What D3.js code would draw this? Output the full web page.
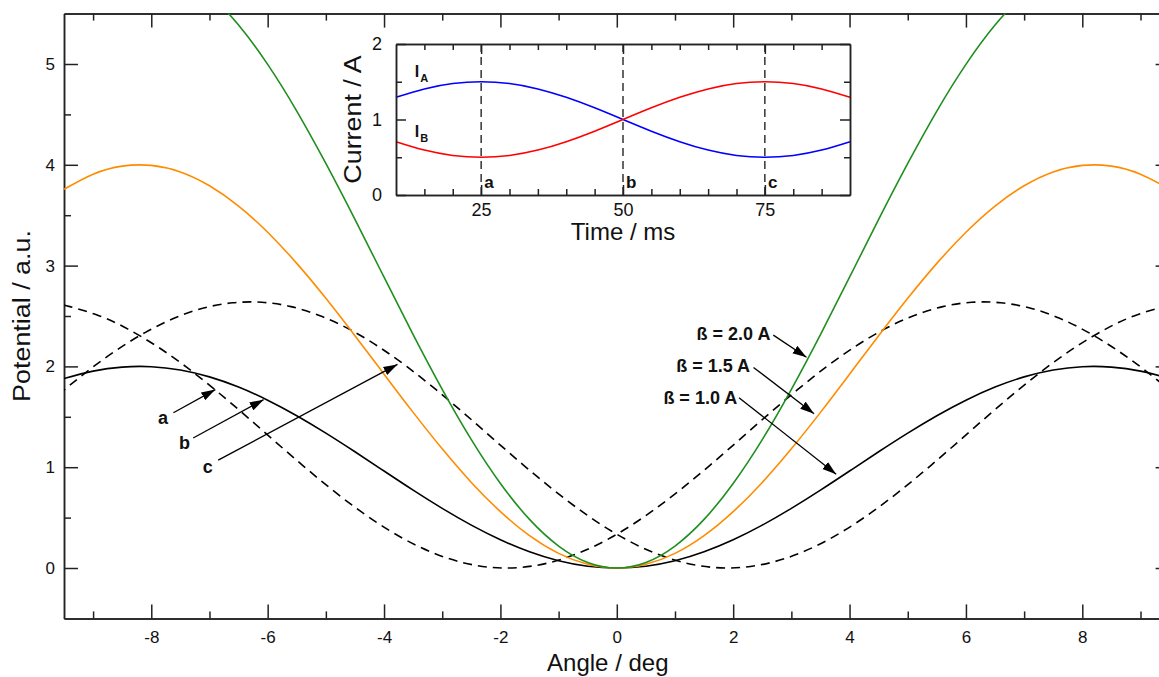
<!DOCTYPE html>
<html><head><meta charset="utf-8">
<script src="https://cdn.jsdelivr.net/npm/d3@7"></script>
<style>
body{margin:0;background:#fff}
svg{display:block}
text{font-family:"Liberation Sans",Arial,Helvetica,sans-serif;fill:#111}
</style>
</head><body>
<svg id="chart" width="1159" height="677"></svg>
<script>
// ---------- main chart data ----------
const angles = [-9.5,-9,-8.5,-8,-7.5,-7,-6.5,-6,-5.5,-5,-4.5,-4,-3.5,-3,-2.5,-2,-1.5,-1,-0.5,0,0.5,1,1.5,2,2.5,3,3.5,4,4.5,5,5.5,6,6.5,7,7.5,8,8.5,9,9.5];
const potBeta10 = [1.879,1.953,1.993,1.997,1.964,1.896,1.795,1.665,1.511,1.338,1.153,0.962,0.772,0.591,0.425,0.280,0.161,0.072,0.018,0,0.018,0.072,0.161,0.280,0.425,0.591,0.772,0.962,1.153,1.338,1.511,1.665,1.795,1.896,1.964,1.997,1.993,1.953,1.879];
const potBeta15 = [3.757,3.907,3.987,3.994,3.929,3.792,3.591,3.331,3.022,2.676,2.305,1.923,1.544,1.182,0.849,0.559,0.321,0.145,0.037,0,0.037,0.145,0.321,0.559,0.849,1.182,1.544,1.923,2.305,2.676,3.022,3.331,3.591,3.792,3.929,3.994,3.987,3.907,3.757];
const potBeta20 = [5.636,5.860,5.980,5.991,5.893,5.689,5.386,4.996,4.533,4.013,3.458,2.885,2.316,1.773,1.274,0.839,0.482,0.218,0.055,0,0.055,0.218,0.482,0.839,1.274,1.773,2.316,2.885,3.458,4.013,4.533,4.996,5.386,5.689,5.893,5.991,5.980,5.860,5.636];
// dashed curve "a" (minimum shifted left)
const angleA = [-9.5,-9.4,-8.9,-8.4,-7.9,-7.4,-6.9,-6.4,-5.9,-5.4,-4.9,-4.4,-3.9,-3.4,-2.9,-2.4,-1.9,-1.4,-0.9,-0.4,0.1,0.6,1.1,1.6,2.1,2.6,3.1,3.6,4.1,4.6,5.1,5.6,6.1,6.6,7.1,7.6,8.1,8.6,9.1,9.6];
const potA = [2.605,2.593,2.503,2.370,2.198,1.995,1.766,1.522,1.269,1.019,0.780,0.561,0.369,0.212,0.096,0.024,0,0.024,0.096,0.212,0.369,0.561,0.780,1.019,1.269,1.522,1.766,1.995,2.198,2.370,2.503,2.593,2.636,2.631,2.579,2.480,2.338,2.160,1.951,1.718];
// dashed curve "c" (minimum shifted right)
const angleC = [-9.6,-9.1,-8.6,-8.1,-7.6,-7.1,-6.6,-6.1,-5.6,-5.1,-4.6,-4.1,-3.6,-3.1,-2.6,-2.1,-1.6,-1.1,-0.6,-0.1,0.4,0.9,1.4,1.9,2.4,2.9,3.4,3.9,4.4,4.9,5.4,5.9,6.4,6.9,7.4,7.9,8.4,8.9,9.4,9.5];
const potC = [1.718,1.951,2.160,2.338,2.480,2.579,2.631,2.636,2.593,2.503,2.370,2.198,1.995,1.766,1.522,1.269,1.019,0.780,0.561,0.369,0.212,0.096,0.024,0,0.024,0.096,0.212,0.369,0.561,0.780,1.019,1.269,1.522,1.766,1.995,2.198,2.370,2.503,2.593,2.605];
const angleTicks = [-8,-6,-4,-2,0,2,4,6,8];
const angleMinorTicks = [-9,-7,-5,-3,-1,1,3,5,7,9];
const potentialTicks = [0,1,2,3,4,5];
const potentialMinorTicks = [0.5,1.5,2.5,3.5,4.5];
// annotation arrows (label, label pos, start, tip) in data units
const curveLabels = ["a","b","c"];
const curveLabelPos = [[-7.80,1.49],[-7.43,1.24],[-7.03,1.00]];
const curveArrowFrom = [[-7.62,1.54],[-7.28,1.29],[-6.85,1.07]];
const curveArrowTo = [[-6.90,1.77],[-6.07,1.67],[-3.77,2.02]];
const betaLabels = ["ß = 2.0 A","ß = 1.5 A","ß = 1.0 A"];
const betaLabelPos = [[2.64,2.32],[2.29,2.00],[2.07,1.69]];
const betaArrowFrom = [[2.69,2.31],[2.35,1.99],[2.10,1.69]];
const betaArrowTo = [[3.26,2.09],[3.39,1.53],[3.77,0.93]];

// ---------- inset data ----------
const time = [10,15,20,25,30,35,40,45,50,55,60,65,70,75,80,85,90];
const currentA = [1.294,1.405,1.476,1.5,1.476,1.405,1.294,1.155,1.0,0.845,0.706,0.595,0.524,0.5,0.524,0.595,0.706];
const currentB = [0.706,0.595,0.524,0.5,0.524,0.595,0.706,0.845,1.0,1.155,1.294,1.405,1.476,1.5,1.476,1.405,1.294];
const timeTicks = [25,50,75];
const timeMinorTicks = [15,20,30,35,40,45,55,60,65,70,80,85];
const currentTicks = [0,1,2];
const currentMinorTicks = [0.5,1.5];
const markTimes = [25,50,75];
const markLabels = ["a","b","c"];

// ---------- drawing ----------
const svg = d3.select("#chart");
const FONT = '"Liberation Sans",Arial,Helvetica,sans-serif';
const AX = "#222";

const M = {left:64, right:1169.6, top:13.6, bottom:618.4};
const x = d3.scaleLinear().domain([-9.5,9.5]).range([M.left,M.right]);
const y = d3.scaleLinear().domain([-0.5,5.5]).range([M.bottom,M.top]);

const defs = svg.append("defs");
defs.append("clipPath").attr("id","clipMain")
  .append("rect").attr("x",M.left).attr("y",M.top).attr("width",M.right-M.left).attr("height",M.bottom-M.top);
defs.append("marker").attr("id","arrow").attr("viewBox","0 -5 15 10")
  .attr("refX",14).attr("refY",0).attr("markerWidth",15).attr("markerHeight",10)
  .attr("markerUnits","userSpaceOnUse").attr("orient","auto")
  .append("path").attr("d","M0,-4.5L14,0L0,4.5Z").attr("fill","#000");

function styleAxis(g, fs){
  g.select(".domain").attr("stroke",AX).attr("stroke-width",1.5);
  g.selectAll(".tick line").attr("stroke",AX).attr("stroke-width",1.5);
  g.selectAll(".tick text").attr("font-family",FONT).attr("font-size",fs).attr("fill","#111");
}

// main axes
const mainAxes = [
  [d3.axisBottom(x).tickValues(angleTicks).tickSizeInner(-14).tickPadding(13).tickFormat(d=>String(d)), `translate(0,${M.bottom})`],
  [d3.axisBottom(x).tickValues(angleMinorTicks).tickSizeInner(-7).tickFormat(""), `translate(0,${M.bottom})`],
  [d3.axisTop(x).tickValues(angleTicks).tickSizeInner(-14).tickFormat(""), `translate(0,${M.top})`],
  [d3.axisTop(x).tickValues(angleMinorTicks).tickSizeInner(-7).tickFormat(""), `translate(0,${M.top})`],
  [d3.axisLeft(y).tickValues(potentialTicks).tickSizeInner(-14).tickPadding(9).tickFormat(d=>String(d)), `translate(${M.left},0)`],
  [d3.axisLeft(y).tickValues(potentialMinorTicks).tickSizeInner(-7).tickFormat(""), `translate(${M.left},0)`],
  [d3.axisRight(y).tickValues(potentialTicks).tickSizeInner(-14).tickFormat(""), `translate(${M.right},0)`]
];
mainAxes.forEach(([ax,tr])=>{
  const g = svg.append("g").attr("transform",tr).call(ax.tickSizeOuter(0));
  styleAxis(g,17);
});

svg.append("text").attr("x",(M.left+M.right)/2 - 9).attr("y",671)
  .attr("text-anchor","middle").attr("font-size",24).text("Angle / deg");
svg.append("text").attr("transform",`translate(30,${(M.top+M.bottom)/2}) rotate(-90) scale(1.12,1)`)
  .attr("text-anchor","middle").attr("font-size",24).text("Potential / a.u.");

// main curves
const plot = svg.append("g").attr("clip-path","url(#clipMain)");
const line = d3.line().x(d=>x(d[0])).y(d=>y(d[1])).curve(d3.curveNatural);
const series = [
  {xs:angleA, ys:potA, color:"#000", dash:"9,6"},
  {xs:angleC, ys:potC, color:"#000", dash:"9,6"},
  {xs:angles, ys:potBeta10, color:"#000", dash:null},
  {xs:angles, ys:potBeta15, color:"#ff8c00", dash:null},
  {xs:angles, ys:potBeta20, color:"#1f8f1f", dash:null}
];
series.forEach(s=>{
  plot.append("path").datum(s.xs.map((v,i)=>[v,s.ys[i]]))
    .attr("d",line).attr("fill","none").attr("stroke",s.color)
    .attr("stroke-width",1.6).attr("stroke-dasharray",s.dash);
});

// annotations
function arrow(from,to){
  svg.append("line").attr("x1",x(from[0])).attr("y1",y(from[1]))
    .attr("x2",x(to[0])).attr("y2",y(to[1]))
    .attr("stroke","#000").attr("stroke-width",1.3).attr("marker-end","url(#arrow)");
}
curveLabels.forEach((t,i)=>{
  arrow(curveArrowFrom[i],curveArrowTo[i]);
  svg.append("text").attr("x",x(curveLabelPos[i][0])).attr("y",y(curveLabelPos[i][1]))
    .attr("text-anchor","middle").attr("dominant-baseline","central")
    .attr("font-size",18).attr("font-weight","bold").text(t);
});
betaLabels.forEach((t,i)=>{
  arrow(betaArrowFrom[i],betaArrowTo[i]);
  svg.append("text").attr("x",x(betaLabelPos[i][0])).attr("y",y(betaLabelPos[i][1]))
    .attr("text-anchor","end").attr("dominant-baseline","central")
    .attr("font-size",18).attr("font-weight","bold").text(t);
});

// ---------- inset ----------
const I = {left:396, right:850, top:44, bottom:195};
const xi = d3.scaleLinear().domain([10,90]).range([I.left,I.right]);
const yi = d3.scaleLinear().domain([0,2]).range([I.bottom,I.top]);
svg.append("rect").attr("x",I.left).attr("y",I.top).attr("width",I.right-I.left).attr("height",I.bottom-I.top)
  .attr("fill","#fff");

markTimes.forEach((t,i)=>{
  svg.append("line").attr("x1",xi(t)).attr("x2",xi(t)).attr("y1",yi(2)).attr("y2",yi(0))
    .attr("stroke","#000").attr("stroke-width",1.2).attr("stroke-dasharray","8,5");
  svg.append("text").attr("x",xi(t)+3).attr("y",yi(0.16)).attr("dominant-baseline","central")
    .attr("font-size",17).attr("font-weight","bold").text(markLabels[i]);
});

const iline = d3.line().x(d=>xi(d[0])).y(d=>yi(d[1])).curve(d3.curveNatural);
svg.append("path").datum(time.map((t,i)=>[t,currentA[i]])).attr("d",iline)
  .attr("fill","none").attr("stroke","#0000ff").attr("stroke-width",1.6);
svg.append("path").datum(time.map((t,i)=>[t,currentB[i]])).attr("d",iline)
  .attr("fill","none").attr("stroke","#ff0000").attr("stroke-width",1.6);

const ia = [
  [d3.axisBottom(xi).tickValues(timeTicks).tickSizeInner(-10).tickPadding(8).tickFormat(d=>String(d)), `translate(0,${I.bottom})`],
  [d3.axisBottom(xi).tickValues(timeMinorTicks).tickSizeInner(-6).tickFormat(""), `translate(0,${I.bottom})`],
  [d3.axisTop(xi).tickValues(timeTicks).tickSizeInner(-10).tickFormat(""), `translate(0,${I.top})`],
  [d3.axisTop(xi).tickValues(timeMinorTicks).tickSizeInner(-6).tickFormat(""), `translate(0,${I.top})`],
  [d3.axisLeft(yi).tickValues(currentTicks).tickSizeInner(-10).tickPadding(14).tickFormat(d=>String(d)), `translate(${I.left},0)`],
  [d3.axisLeft(yi).tickValues(currentMinorTicks).tickSizeInner(-6).tickFormat(""), `translate(${I.left},0)`],
  [d3.axisRight(yi).tickValues(currentTicks).tickSizeInner(-10).tickFormat(""), `translate(${I.right},0)`],
  [d3.axisRight(yi).tickValues(currentMinorTicks).tickSizeInner(-6).tickFormat(""), `translate(${I.right},0)`]
];
ia.forEach(([ax,tr])=>{
  const g = svg.append("g").attr("transform",tr).call(ax.tickSizeOuter(0));
  styleAxis(g,18);
});

svg.append("text").attr("x",(I.left+I.right)/2).attr("y",240)
  .attr("text-anchor","middle").attr("font-size",24).text("Time / ms");
svg.append("text").attr("transform",`translate(361,${(I.top+I.bottom)/2}) rotate(-90) scale(1.12,1)`)
  .attr("text-anchor","middle").attr("font-size",24).text("Current / A");

[["A",1.56],["B",0.77]].forEach(([sub,v])=>{
  const t = svg.append("text").attr("x",xi(13.3)).attr("y",yi(v))
    .attr("font-size",16).attr("font-weight","bold");
  t.append("tspan").text("I");
  t.append("tspan").attr("font-size",11).attr("dy",5).attr("dx",1).text(sub);
});
</script>
</body></html>
